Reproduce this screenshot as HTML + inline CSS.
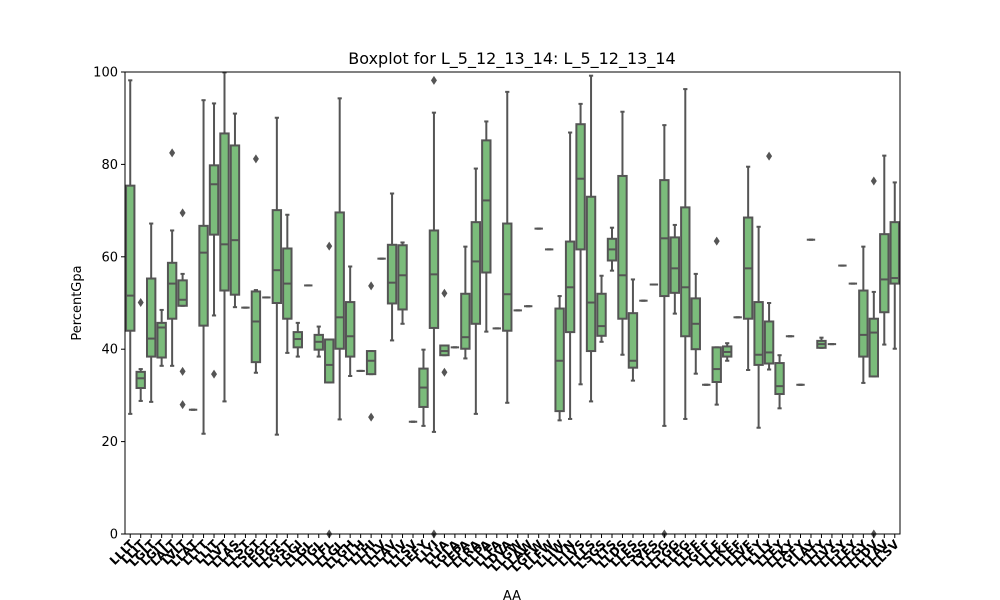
<!DOCTYPE html>
<html><head><meta charset="utf-8"><style>
body{margin:0;background:#fff;}
svg{display:block;font-family:"DejaVu Sans","Liberation Sans",sans-serif;}
</style></head><body>
<svg id="chart" width="1000" height="600" viewBox="0 0 1000 600" xmlns="http://www.w3.org/2000/svg">
<rect x="0" y="0" width="1000" height="600" fill="#fff"/>
<text x="512" y="64" font-size="16" text-anchor="middle">Boxplot for L_5_12_13_14: L_5_12_13_14</text>
<text transform="translate(81,303) rotate(-90)" font-size="13" text-anchor="middle">PercentGpa</text>
<text x="512" y="600" font-size="13" text-anchor="middle">AA</text>
<g id="plot"></g>
</svg>
<script>
const categories = ["LLLT","LLIT","LGLT","LGIT","LALT","LVLT","LLAT","LLTT","LLIT","LLVT","LLAS","LLST","LSGT","LEGT","LLGT","LGST","LGGI","LLGL","LTGL","LLFL","LLGL","LLGH","LLLH","LLHI","LLLV","LLAV","LLIV","LLSV","LEFY","LLYI","LLIA","LGLA","LEPA","LLRA","LLPA","LLFA","LDVA","LLGW","LLAW","LGFW","LLFW","LLIW","LLYN","LLVS","LLLS","LSGS","LLTS","LLDS","LLES","LSSS","LYES","LLSG","LLGG","LLEG","LLFF","LGFF","LLLF","LLKF","LLEF","LLVF","LLFY","LLLY","LLEY","LLKY","LGFY","LLAY","LLTY","LLVY","LLSY","LLEY","LLGY","LLDV","LLAV","LLSV"];
const whiskerLow = [26,28.8,28.6,36.4,36.4,49.4,26.9,21.7,47.3,28.7,49.1,49,34.9,51.2,21.5,39.2,38.4,53.8,38.4,32.8,24.8,34.2,35.3,34.6,59.6,41.9,45.5,24.3,23.4,22.1,38.7,40.4,38,26,43.8,44.5,28.4,48.4,49.3,66.1,61.6,24.6,24.9,32.4,28.7,41.6,57,38.8,33.2,50.5,54,23.4,47.7,24.9,34.7,32.3,28,37.5,46.9,35.5,23,35.6,27.2,42.8,32.3,63.7,40.3,41.1,58.1,54.2,32.7,34.1,41,40.1];
const q1 = [44,31.6,38.4,38.2,46.6,49.4,26.9,45.1,64.8,52.7,51.8,49,37.2,51.2,50,46.6,40.4,53.8,39.9,32.8,40.1,38.4,35.3,34.6,59.6,49.9,48.6,24.3,27.5,44.6,38.7,40.4,40.1,45.5,56.6,44.5,44,48.4,49.3,66.1,61.6,26.6,43.7,61.6,39.6,42.9,59.2,46.6,36,50.5,54,51.5,52.2,42.8,40,32.3,32.9,38.4,46.9,46.6,36.6,36.9,30.3,42.8,32.3,63.7,40.3,41.1,58.1,54.2,38.4,34.1,48,54.2];
const medians = [51.6,33.7,42.3,44.7,54.2,50.7,26.9,60.9,75.7,62.7,63.6,49,46,51.2,57.1,54.2,42.2,53.8,41.6,36.6,46.9,42.8,35.3,37.5,59.6,54.4,56,24.3,31.7,56.2,39.6,40.4,42.6,59,72.2,44.5,51.9,48.4,49.3,66.1,61.6,37.5,53.4,76.9,50.1,45,61.6,56,37.5,50.5,54,64,57.5,53.4,45.5,32.3,35.7,39.4,46.9,57.5,38.8,39.3,32,42.8,32.3,63.7,41.1,41.1,58.1,54.2,43.1,43.6,55.1,55.4];
const q3 = [75.4,35.1,55.3,45.7,58.7,54.9,26.9,66.7,79.8,86.7,84.1,49,52.5,51.2,70.1,61.8,43.7,53.8,43.1,42.1,69.6,50.2,35.3,39.6,59.6,62.6,62.5,24.3,35.8,65.7,40.8,40.4,52,67.5,85.2,44.5,67.2,48.4,49.3,66.1,61.6,48.8,63.3,88.7,73,52,63.9,77.5,47.8,50.5,54,76.6,64.2,70.7,51,32.3,40.4,40.6,46.9,68.5,50.2,46,37,42.8,32.3,63.7,41.8,41.1,58.1,54.2,52.7,46.6,64.9,67.5];
const whiskerHigh = [98.2,35.7,67.2,48.5,65.7,56.3,26.9,93.9,93.2,99.9,91,49,52.8,51.2,90.1,69.1,45.7,53.8,44.9,42.1,94.3,57.9,35.3,39.6,59.6,73.7,63.1,24.3,39.9,91.2,40.8,40.4,62.2,79.1,89.3,44.5,95.7,48.4,49.3,66.1,61.6,51.5,86.9,93.1,99.2,55.9,66.3,91.4,55.1,50.5,54,88.5,66.9,96.3,56.3,32.3,40.4,41.3,46.9,79.5,66.5,50,38.7,42.8,32.3,63.7,42.5,41.1,58.1,54.2,62.2,52.4,81.9,76.1];
const outliers = [[],[50.1],[],[],[82.5],[69.5,35.2,28],[],[],[34.6],[],[],[],[81.2],[],[],[],[],[],[],[62.3,0],[],[],[],[53.7,25.3],[],[],[],[],[],[98.2,0],[52.1,35],[],[],[],[],[],[],[],[],[],[],[],[],[],[],[],[],[],[],[],[],[0],[],[],[],[],[63.4],[],[],[],[],[81.8],[],[],[],[],[],[],[],[],[],[76.4,0],[],[]];
const yTicks = [0,20,40,60,80,100];

const NS = "http://www.w3.org/2000/svg";
const plot = document.getElementById('plot');
const L = 125, R = 900, T = 72, B = 534;
const n = categories.length;
const step = (R - L) / n;
function xPos(i){ return L + (i + 0.5) * step; }
function yPos(v){ return B - (v / 100) * (B - T); }
function mk(tag, attrs){ const e = document.createElementNS(NS, tag); for (const k in attrs) e.setAttribute(k, attrs[k]); plot.appendChild(e); return e; }
const stroke = "#555555", fill = "#7bbc7b", sw = 2;
const bw = step * 0.8;

for (let i = 0; i < n; i++) {
  const cx = xPos(i);
  const g = mk('g', {});
  
  
  const add = (tag, attrs) => { const e = document.createElementNS(NS, tag); for (const k in attrs) e.setAttribute(k, attrs[k]); g.appendChild(e); return e; };
  let w1 = add('line', {x1: cx, x2: cx, y1: yPos(q3[i]), y2: yPos(whiskerHigh[i]), stroke: stroke, 'stroke-width': sw});
  
  
  let w2 = add('line', {x1: cx, x2: cx, y1: yPos(q1[i]), y2: yPos(whiskerLow[i]), stroke: stroke, 'stroke-width': sw});
  
  
  let c1 = add('line', {x1: cx - bw/4, x2: cx + bw/4, y1: yPos(whiskerHigh[i]), y2: yPos(whiskerHigh[i]), stroke: stroke, 'stroke-width': sw});
  
  
  let c2 = add('line', {x1: cx - bw/4, x2: cx + bw/4, y1: yPos(whiskerLow[i]), y2: yPos(whiskerLow[i]), stroke: stroke, 'stroke-width': sw});
  
  
  let r = add('rect', {x: cx - bw/2, y: yPos(q3[i]), width: bw, height: Math.max(0, yPos(q1[i]) - yPos(q3[i])), fill: fill, stroke: stroke, 'stroke-width': sw});
  
  
  let m = add('line', {x1: cx - bw/2, x2: cx + bw/2, y1: yPos(medians[i]), y2: yPos(medians[i]), stroke: stroke, 'stroke-width': sw});
  
  
  outliers[i].forEach(v => {
    const y = yPos(v);
    let d = add('polygon', {points: `${cx},${y-4.5} ${cx+3},${y} ${cx},${y+4.5} ${cx-3},${y}`, fill: stroke});
    
    
  });
}

let fr = mk('rect', {x: L, y: T, width: R - L, height: B - T, fill: 'none', stroke: '#000', 'stroke-width': 1});



yTicks.forEach(v => {
  const y = yPos(v);
  let t = mk('line', {x1: L - 4, x2: L, y1: y, y2: y, stroke: '#000', 'stroke-width': 1});
  
  
  let tx = mk('text', {x: L - 7, y: y + 4.5, 'font-size': 13, 'text-anchor': 'end'});
  tx.textContent = v;
  
  
});

categories.forEach((c, i) => {
  const x = xPos(i);
  let t = mk('line', {x1: x, x2: x, y1: B, y2: B + 4, stroke: '#000', 'stroke-width': 1});
  
  
  let tx = mk('text', {transform: `translate(${x + 5},${B + 11}) rotate(-45)`, 'font-size': 12, 'font-weight': 'bold', 'text-anchor': 'end'});
  tx.textContent = c;
  
  
});
</script>
</body></html>
